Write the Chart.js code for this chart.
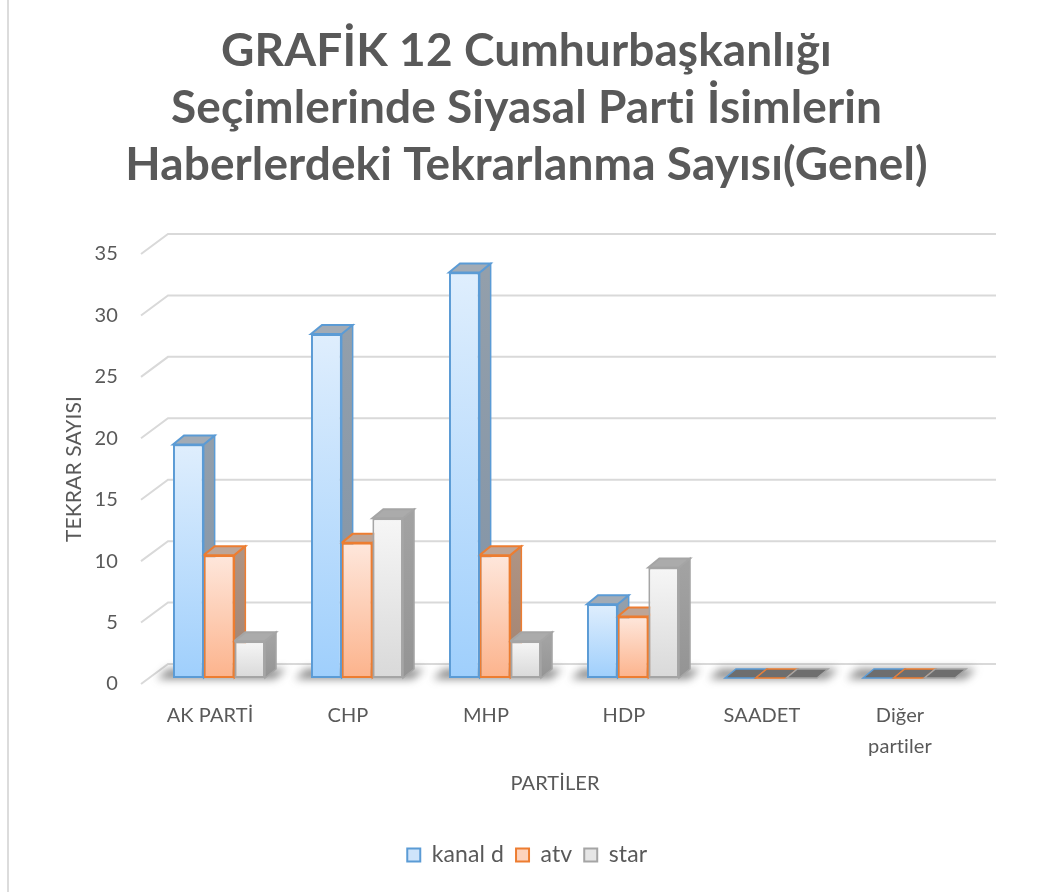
<!DOCTYPE html>
<html lang="tr">
<head>
<meta charset="utf-8">
<title>GRAFİK 12</title>
<script src="https://cdn.jsdelivr.net/npm/chart.js@4.4.1/dist/chart.umd.min.js"></script>
<style>
  body { margin: 0; background: #fff; }
  #wrap { position: relative; width: 1043px; height: 892px; }
  #edge { position: absolute; left: 7px; top: 0; width: 2px; height: 892px; background: #dcdcdc; }
</style>
</head>
<body>
<div id="wrap">
  <canvas id="grafik12" width="1043" height="892"></canvas>
  <div id="edge"></div>
</div>
<script>
const PARTILER = ['AK PARTİ', 'CHP', 'MHP', 'HDP', 'SAADET', ['Diğer', 'partiler']];
const KANAL_D = [19, 28, 33, 6, 0, 0];
const ATV = [10, 11, 10, 5, 0, 0];
const STAR = [3, 13, 3, 9, 0, 0];
const Y_MAX = 35;
const Y_STEP = 5;

const TEXT = '#595959';
const STYLE = [
  { border: '#5B9BD5', top: '#DFEEFD', bottom: '#9FCFFC', side: ['#939FAB', '#8193A6'], cap: '#A2ABB5', flat: '#6E6E6E', legend: '#CFE4FB' },
  { border: '#ED7D31', top: '#FEE7DC', bottom: '#FCB38C', side: ['#AE9383', '#A3826F'], cap: '#BDA597', flat: '#6E6E6E', legend: '#FDD3BD' },
  { border: '#A5A5A5', top: '#F6F6F6', bottom: '#D9D9D9', side: ['#A2A2A2', '#949494'], cap: '#ABABAB', flat: '#6E6E6E', legend: '#E6E6E6' }
];

// fake 3d: back wall offset, bar shift into the depth, bar thickness
const WALL = { dx: 27, dy: -20 };
const SHIFT = { x: 9, y: -6 };
const DEPTH = { dx: 11, dy: -9 };

Chart.defaults.font.family = "Lato, 'Open Sans', sans-serif";
Chart.defaults.color = TEXT;

const frontFill = (i) => (c) => {
  const st = STYLE[i];
  const chart = c.chart;
  if (!chart.chartArea || c.type !== 'data') return st.bottom;
  const y = chart.scales.y;
  const top = y.getPixelForValue(c.raw);
  const base = y.getPixelForValue(0);
  if (base - top < 1) return st.bottom;
  const g = chart.ctx.createLinearGradient(0, top, 0, base);
  g.addColorStop(0, st.top);
  g.addColorStop(1, st.bottom);
  return g;
};

const box3d = {
  id: 'box3d',
  beforeDraw(chart) {
    // tiny spacing so "ti" is not drawn as a ligature
    chart.ctx.letterSpacing = '0.1px';
  },
  beforeDatasetsDraw(chart) {
    const { ctx, chartArea, scales: { y } } = chart;

    ctx.save();
    ctx.strokeStyle = '#D9D9D9';
    ctx.lineWidth = 2;
    y.ticks.forEach((t) => {
      const py = y.getPixelForValue(t.value);
      ctx.beginPath();
      ctx.moveTo(chartArea.left, py);
      ctx.lineTo(chartArea.left + WALL.dx, py + WALL.dy);
      ctx.lineTo(chartArea.right + WALL.dx, py + WALL.dy);
      ctx.stroke();
    });
    ctx.restore();

    // stays translated until afterDatasetsDraw, so the fronts line up
    ctx.save();
    ctx.translate(SHIFT.x, SHIFT.y);

    const metas = chart.data.datasets.map((d, i) => chart.getDatasetMeta(i));
    ctx.filter = 'blur(4px)';
    ctx.fillStyle = 'rgba(60,60,60,0.6)';
    metas[0].data.forEach((b0, c) => {
      const b2 = metas[metas.length - 1].data[c];
      const l = b0.x - b0.width / 2 - 16;
      const r = b2.x + b2.width / 2 + 10;
      const base = b0.base;
      ctx.beginPath();
      ctx.moveTo(l, base + 1);
      ctx.lineTo(r, base + 1);
      ctx.lineTo(r + DEPTH.dx, base + DEPTH.dy);
      ctx.lineTo(l + DEPTH.dx, base + DEPTH.dy);
      ctx.closePath();
      ctx.fill();
    });
    ctx.filter = 'none';

    metas.forEach((meta, i) => {
      const st = STYLE[i];
      meta.data.forEach((bar) => {
        const { x, y: top, base, width } = bar.getProps(['x', 'y', 'base', 'width'], true);
        const l = x - width / 2;
        const r = x + width / 2;
        const flat = base - top < 1;
        if (!flat) {
          ctx.beginPath();
          ctx.moveTo(r, top);
          ctx.lineTo(r + DEPTH.dx, top + DEPTH.dy);
          ctx.lineTo(r + DEPTH.dx, base + DEPTH.dy);
          ctx.lineTo(r, base);
          ctx.closePath();
          const g = ctx.createLinearGradient(0, top, 0, base);
          g.addColorStop(0, st.side[0]);
          g.addColorStop(1, st.side[1]);
          ctx.fillStyle = g;
          ctx.fill();
          ctx.strokeStyle = st.border;
          ctx.lineWidth = 1.5;
          ctx.stroke();
        }
        ctx.beginPath();
        ctx.moveTo(l, top);
        ctx.lineTo(l + DEPTH.dx, top + DEPTH.dy);
        ctx.lineTo(r + DEPTH.dx, top + DEPTH.dy);
        ctx.lineTo(r, top);
        ctx.closePath();
        ctx.fillStyle = flat ? st.flat : st.cap;
        ctx.fill();
        ctx.strokeStyle = st.border;
        ctx.lineWidth = flat ? 1.5 : 2;
        ctx.stroke();
      });
    });
  },
  afterDatasetsDraw(chart) {
    chart.ctx.restore();
  }
};

const mkDataset = (label, data, i) => ({
  label,
  data,
  backgroundColor: frontFill(i),
  borderColor: STYLE[i].border,
  borderWidth: 2,
  borderSkipped: false,
  categoryPercentage: 0.667,
  barPercentage: 1,
  clip: false
});

new Chart(document.getElementById('grafik12'), {
  type: 'bar',
  data: {
    labels: PARTILER,
    datasets: [
      mkDataset('kanal d', KANAL_D, 0),
      mkDataset('atv', ATV, 1),
      mkDataset('star', STAR, 2)
    ]
  },
  options: {
    responsive: false,
    animation: false,
    layout: { padding: { left: 10, right: 0, top: 0, bottom: 15.5 } },
    scales: {
      x: {
        grid: { display: false, drawTicks: false },
        border: { display: false },
        ticks: { font: { size: 20, lineHeight: 1.55 }, padding: 16, maxRotation: 0, autoSkip: false },
        title: { display: true, text: 'PARTİLER', font: { size: 20 }, padding: { top: 0, bottom: 36 } },
        afterFit: (s) => { s.height = 147.5; }
      },
      y: {
        min: 0,
        max: Y_MAX,
        ticks: { stepSize: Y_STEP, padding: 23, font: { size: 20 } },
        grid: { display: false, drawTicks: false },
        border: { display: false },
        title: { display: true, text: 'TEKRAR SAYISI', font: { size: 21 }, padding: { top: 52, bottom: 0 } },
        afterFit: (s) => { s.width = 131; }
      },
      y2: {
        position: 'right',
        grid: { display: false, drawTicks: false },
        border: { display: false },
        ticks: { display: false },
        afterFit: (s) => { s.width = 74; }
      }
    },
    plugins: {
      title: {
        display: true,
        text: ['GRAFİK 12 Cumhurbaşkanlığı', 'Seçimlerinde Siyasal Parti İsimlerin', 'Haberlerdeki Tekrarlanma Sayısı(Genel)'],
        color: TEXT,
        font: { size: 46, weight: 'bold', lineHeight: 57 / 46 },
        padding: { top: 23, bottom: 60 }
      },
      legend: {
        position: 'bottom',
        labels: {
          font: { size: 23 },
          boxWidth: 13,
          boxHeight: 13,
          padding: 12,
          generateLabels: (chart) => {
            const items = Chart.defaults.plugins.legend.labels.generateLabels(chart);
            items.forEach((it, i) => {
              it.fillStyle = STYLE[i].legend;
              it.strokeStyle = STYLE[i].border;
              it.lineWidth = 2;
            });
            return items;
          }
        }
      },
      tooltip: { enabled: false }
    }
  },
  plugins: [box3d]
});
</script>
</body>
</html>
